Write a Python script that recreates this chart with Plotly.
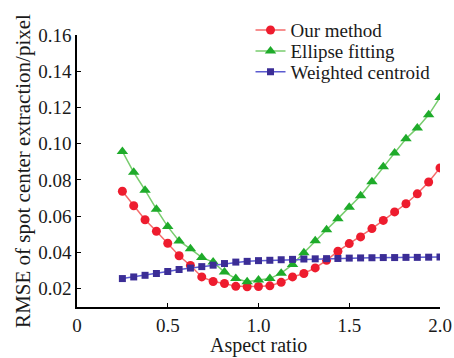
import plotly.graph_objects as go

aspect_ratio = [0.25, 0.3125, 0.375, 0.4375, 0.5, 0.5625, 0.625, 0.6875, 0.75, 0.8125,
                0.875, 0.9375, 1.0, 1.0625, 1.125, 1.1875, 1.25, 1.3125, 1.375, 1.4375,
                1.5, 1.5625, 1.625, 1.6875, 1.75, 1.8125, 1.875, 1.9375, 2.0]

our_method = [0.0737, 0.0657, 0.0580, 0.0516, 0.0450, 0.0381, 0.0327, 0.0264, 0.0239, 0.0228,
              0.0212, 0.0210, 0.0211, 0.0215, 0.0234, 0.0264, 0.0283, 0.0314, 0.0356, 0.0406,
              0.0448, 0.0485, 0.0531, 0.0576, 0.0623, 0.0668, 0.0723, 0.0788, 0.0866]

ellipse_fitting = [0.0957, 0.0842, 0.0743, 0.0638, 0.0542, 0.0463, 0.0419, 0.0372, 0.0346, 0.0291,
                   0.0255, 0.0237, 0.0247, 0.0255, 0.0285, 0.0332, 0.0398, 0.0464, 0.0525, 0.0586,
                   0.0649, 0.0712, 0.0790, 0.0872, 0.0949, 0.1027, 0.1087, 0.1159, 0.1255]

weighted_centroid = [0.0255, 0.0264, 0.0273, 0.0283, 0.0294, 0.0305, 0.0313, 0.0321, 0.0329, 0.0338,
                     0.0346, 0.0350, 0.0354, 0.0356, 0.0359, 0.0361, 0.0363, 0.0364, 0.0365, 0.0366,
                     0.0368, 0.0369, 0.0370, 0.0371, 0.0371, 0.0372, 0.0372, 0.0373, 0.0374]

x_tick_vals = [0, 0.5, 1.0, 1.5, 2.0]
x_tick_text = ["0", "0.5", "1.0", "1.5", "2.0"]
y_tick_vals = [0.02, 0.04, 0.06, 0.08, 0.10, 0.12, 0.14, 0.16]
x_title = "Aspect ratio"
y_title = "RMSE of spot center extraction/pixel"

FONT = "Liberation Serif, Times New Roman, serif"

fig = go.Figure()
fig.add_trace(go.Scatter(
    x=aspect_ratio, y=our_method, name="Our method", mode="lines+markers",
    line=dict(color="#f56a6a", width=1.5),
    marker=dict(symbol="circle", size=9, color="#ee1c2e"), legend="legend"))
fig.add_trace(go.Scatter(
    x=aspect_ratio, y=ellipse_fitting, name="Ellipse fitting", mode="lines+markers",
    line=dict(color="#78cc6e", width=1.5),
    marker=dict(symbol="triangle-up", size=10, color="#1eab2a"), legend="legend2"))
fig.add_trace(go.Scatter(
    x=aspect_ratio, y=weighted_centroid, name="Weighted centroid", mode="lines+markers",
    line=dict(color="#5b5bd0", width=1.5),
    marker=dict(symbol="square", size=7, color="#3b2d96"), legend="legend3"))

leg_common = dict(x=0.478, xanchor="left", yanchor="middle",
                  bgcolor="rgba(0,0,0,0)", font=dict(size=19, color="#1a1a1a"),
                  itemwidth=30)

fig.update_layout(
    width=454, height=358,
    margin=dict(l=77, r=14, t=35, b=51, autoexpand=False),
    paper_bgcolor="white", plot_bgcolor="white",
    font=dict(family=FONT, size=18, color="#1a1a1a"),
    legend=dict(y=1.018, **leg_common),
    legend2=dict(y=0.941, **leg_common),
    legend3=dict(y=0.864, **leg_common),
    showlegend=True,
    annotations=[dict(text=x_title, xref="paper", yref="paper", x=0.5, y=-0.143,
                      xanchor="center", yanchor="middle", showarrow=False,
                      font=dict(family=FONT, size=20, color="#1a1a1a"))],
)
fig.update_xaxes(
    range=[0, 2.0], tickvals=x_tick_vals, ticktext=x_tick_text,
    showline=True, linecolor="black", linewidth=1.5, mirror=False,
    ticks="inside", ticklen=4, tickwidth=1.2, tickcolor="black",
    showgrid=False, zeroline=False, ticklabelstandoff=0, automargin=False,
    tickfont=dict(size=19),
)
fig.update_yaxes(
    range=[0.0098, 0.16], tickvals=y_tick_vals, tickformat=".2f",
    showline=True, linecolor="black", linewidth=1.5, mirror=False,
    ticks="inside", ticklen=4, tickwidth=1.2, tickcolor="black",
    showgrid=False, zeroline=False, automargin=False,
    title=dict(text=y_title, font=dict(size=21), standoff=2),
    tickfont=dict(size=19),
)

fig.write_html("out.html")
